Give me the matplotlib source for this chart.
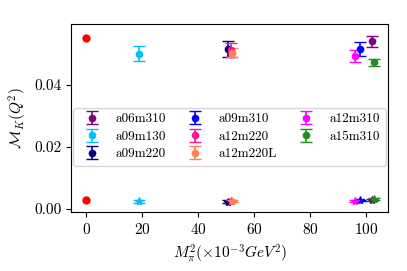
import matplotlib
matplotlib.use("Agg")
import matplotlib.pyplot as plt

plt.rcParams["font.family"] = "serif"
plt.rcParams["font.serif"] = ["cmr10"]
plt.rcParams["mathtext.fontset"] = "cm"
plt.rcParams["axes.formatter.use_mathtext"] = True

# Ensembles
labels = ["a06m310", "a09m130", "a09m220", "a09m310", "a12m220",
          "a12m220L", "a12m310", "a15m310"]
colors = ["purple", "deepskyblue", "navy", "blue", "deeppink",
          "coral", "magenta", "forestgreen"]
mpi2 = [102.3, 19.0, 50.8, 97.9, 51.9, 52.1, 96.2, 102.9]

# upper set (circles)
upper_y = [0.0541, 0.0502, 0.0518, 0.0517, 0.0513, 0.0505, 0.0494, 0.0474]
upper_err = [0.0019, 0.0023, 0.0026, 0.0022, 0.0023, 0.0015, 0.0018, 0.0011]

# lower set (stars)
lower_y = [0.0029, 0.0024, 0.0023, 0.0027, 0.0025, 0.0026, 0.0025, 0.0032]
lower_err = [0.0004, 0.0004, 0.0004, 0.0003, 0.0003, 0.0003, 0.0002, 0.0004]

# physical point
phys_x = [0.0, 0.0]
phys_y = [0.0553, 0.0029]
phys_err = [0.0010, 0.0002]

fig, ax = plt.subplots(figsize=(4.07, 2.71), dpi=100)

for i in range(len(labels)):
    ax.errorbar(mpi2[i], upper_y[i], yerr=upper_err[i], fmt="o", color=colors[i],
                markersize=4.5, capsize=4, elinewidth=1.2, label=labels[i])
    ax.errorbar(mpi2[i], lower_y[i], yerr=lower_err[i], fmt="*", color=colors[i],
                markersize=6, capsize=4, elinewidth=1.2)

ax.errorbar(phys_x, phys_y, yerr=phys_err, fmt="o", color="red", markersize=5,
            elinewidth=1.5)

ax.set_xlim(-5.4, 107.9)
ax.set_ylim(-0.001, 0.0597)
ax.set_xticks([0, 20, 40, 60, 80, 100])
ax.set_yticks([0.0, 0.02, 0.04])
ax.set_yticklabels(["0.00", "0.02", "0.04"])
ax.tick_params(labelsize=11)
ax.set_xlabel(r"$M_\pi^2(\times 10^{-3}GeV^2)$", fontsize=11)
ax.set_ylabel(r"$\mathcal{M}_K(Q^2)$", fontsize=11)
ax.legend(ncol=3, fontsize=9.5, loc="center", bbox_to_anchor=(0.5, 0.40),
          handletextpad=0.8, columnspacing=1.2, labelspacing=0.4,
          borderpad=0.4)

fig.subplots_adjust(left=0.175, right=0.953, top=0.911, bottom=0.218)
plt.savefig("out.png", dpi=100)
